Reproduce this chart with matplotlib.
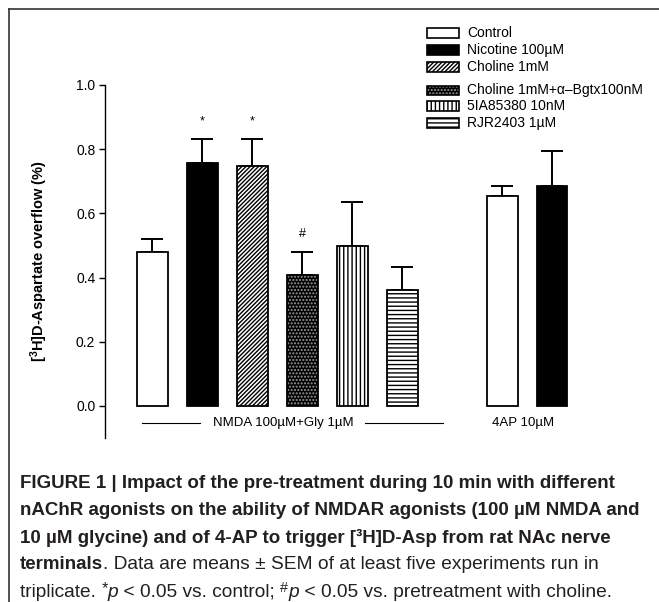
import numpy as np
import matplotlib
matplotlib.use("Agg")
import matplotlib.pyplot as plt
from matplotlib import font_manager
from matplotlib.patches import Rectangle
from matplotlib.lines import Line2D

# -----------------------------------
# DATA
# -----------------------------------
labels = ["Control", "Nicotine 100\u00b5M", "Choline 1mM",
          "Choline 1mM+\u03b1\u2013Bgtx100nM", "5IA85380 10nM", "RJR2403 1\u00b5M"]
positions = [0, 1, 2, 3, 4, 5, 7, 8]
bar_kind = [0, 1, 2, 3, 4, 5, 0, 1]
means = [0.479, 0.757, 0.747, 0.407, 0.497, 0.360, 0.653, 0.686]
sems = [0.040, 0.075, 0.085, 0.074, 0.139, 0.073, 0.031, 0.107]
marks = {1: "*", 2: "*", 3: "#"}
group_labels = ["NMDA 100\u00b5M+Gly 1\u00b5M", "4AP 10\u00b5M"]
yticks = [0.0, 0.2, 0.4, 0.6, 0.8, 1.0]

# style for each kind: facecolor, hatch, hatch colour
styles = [
    ("white", None, "black"),
    ("black", None, "black"),
    ("white", "////////", "black"),
    ("black", ".....", "#9a9a9a"),
    ("white", "||||", "black"),
    ("white", "----", "black"),
]

# -----------------------------------
# FONTS
# -----------------------------------
names = {f.name for f in font_manager.fontManager.ttflist}
sans = "Liberation Sans" if "Liberation Sans" in names else "DejaVu Sans"
plt.rcParams["font.family"] = [sans, "DejaVu Sans"]
plt.rcParams["mathtext.fontset"] = "custom"
plt.rcParams["mathtext.rm"] = sans
plt.rcParams["mathtext.bf"] = sans + ":bold"
plt.rcParams["mathtext.it"] = sans + ":italic"
plt.rcParams["hatch.linewidth"] = 1.0

W, H = 659, 602
fig = plt.figure(figsize=(W / 100, H / 100), dpi=100)


def fx(x):
    return x / W


def fy(y):
    return 1 - y / H


# axes: y from -0.1 (px 438) to 1.0 (px 85), y axis at px 105
ax = fig.add_axes([fx(105), fy(438), 515 / W, 353 / H])
ax.set_ylim(-0.1, 1.0)
ax.set_xlim(-0.94, 9.36)

for p, k, m, s in zip(positions, bar_kind, means, sems):
    fc, hatch, hc = styles[k]
    ax.bar(p, m, width=0.62, color=fc, edgecolor=hc, hatch=hatch, linewidth=0, zorder=2)
    ax.bar(p, m, width=0.62, fill=False, edgecolor="black", linewidth=1.3, zorder=3)
    ax.errorbar(p, m, yerr=[[0], [s]], fmt="none", ecolor="black",
                elinewidth=1.4, capsize=8, capthick=1.4, zorder=1)

for i, mk in marks.items():
    top = means[i] + sems[i]
    ax.text(positions[i], top + 0.035, mk, ha="center", va="bottom", fontsize=9)

# group lines and labels under the bars
ax.plot([-0.2, 0.96], [-0.054, -0.054], color="black", lw=0.8, clip_on=False)
ax.plot([4.26, 5.82], [-0.054, -0.054], color="black", lw=0.8, clip_on=False)
ax.text(2.62, -0.054, group_labels[0], ha="center", va="center", fontsize=9.5)
ax.text(7.42, -0.054, group_labels[1], ha="center", va="center", fontsize=9.5)

for sp in ["top", "right", "bottom"]:
    ax.spines[sp].set_visible(False)
ax.spines["left"].set_bounds(-0.1, 1.0)
ax.spines["left"].set_linewidth(1.0)
ax.set_xticks([])
ax.set_yticks(yticks)
ax.set_yticklabels(["%.1f" % v for v in yticks], fontsize=10)
ax.tick_params(axis="y", length=4, width=1.0, pad=3)
ax.set_ylabel(r"[$^\mathbf{3}$H]D-Aspartate overflow (%)", fontsize=10.5, fontweight="bold")
ax.yaxis.set_label_coords(-0.106, 0.5)

# -----------------------------------
# LEGEND (drawn by hand, gap after third row)
# -----------------------------------
legend_rows = [33, 50, 67, 90, 106, 123]
for k, yy in enumerate(legend_rows):
    fc, hatch, hc = styles[k]
    fig.add_artist(Rectangle((fx(427), fy(yy + 4.5)), 32 / W, 9 / H, transform=fig.transFigure,
                             facecolor=fc, edgecolor=hc, hatch=hatch, linewidth=0))
    fig.add_artist(Rectangle((fx(427), fy(yy + 4.5)), 32 / W, 9 / H, transform=fig.transFigure,
                             fill=False, edgecolor="black", linewidth=1.2))
    fig.text(fx(467), fy(yy), labels[k], ha="left", va="center", fontsize=10)

# -----------------------------------
# FRAME (top and left edge only)
# -----------------------------------
fig.add_artist(Line2D([fx(9), 1], [fy(9), fy(9)], transform=fig.transFigure, color="#333333", lw=1.2))
fig.add_artist(Line2D([fx(9), fx(9)], [fy(9), 0], transform=fig.transFigure, color="#333333", lw=1.2))

# -----------------------------------
# CAPTION
# -----------------------------------
renderer = fig.canvas.get_renderer()


def text_width(txt, **kw):
    t = fig.text(0, 0, txt, **kw)
    w = t.get_window_extent(renderer).width
    t.remove()
    return w


# size the caption so that the first and last lines span the same width as in the figure
line1 = "FIGURE 1 | Impact of the pre-treatment during 10 min with different"
line5 = "triplicate. *p < 0.05 vs. control; #p < 0.05 vs. pretreatment with choline."
bold_size = 10 * 598 / text_width(line1, fontsize=10, fontweight="bold")
reg_size = 10 * 596 / text_width(line5, fontsize=10)


def rich_line(x0, y0, pieces):
    x = fx(x0)
    for txt, kw in pieces:
        t = fig.text(x, fy(y0) + kw.pop("dy", 0) / H, txt, ha="left", va="center",
                     color="#231f20", **kw)
        bb = t.get_window_extent(renderer)
        x = bb.x1 / W


B = dict(fontweight="bold", fontsize=bold_size)
R = dict(fontsize=reg_size)
lines = [
    [(line1, dict(B))],
    [("nAChR agonists on the ability of NMDAR agonists (100 \u00b5M NMDA and", dict(B))],
    [("10 \u00b5M glycine) and of 4-AP to trigger [\u00b3H]D-Asp from rat NAc nerve", dict(B))],
    [("terminals", dict(B)), (". Data are means \u00b1 SEM of at least five experiments run in", dict(R))],
    [("triplicate. ", dict(R)), ("*", dict(R, fontsize=reg_size * 0.85, dy=4)),
     ("p", dict(R, style="italic")), (" < 0.05 vs. control; ", dict(R)),
     ("#", dict(R, fontsize=reg_size * 0.75, dy=4)), ("p", dict(R, style="italic")),
     (" < 0.05 vs. pretreatment with choline.", dict(R))],
]
for i, pieces in enumerate(lines):
    rich_line(20, 483 + 27.3 * i, pieces)

fig.savefig("out.png", dpi=100)
